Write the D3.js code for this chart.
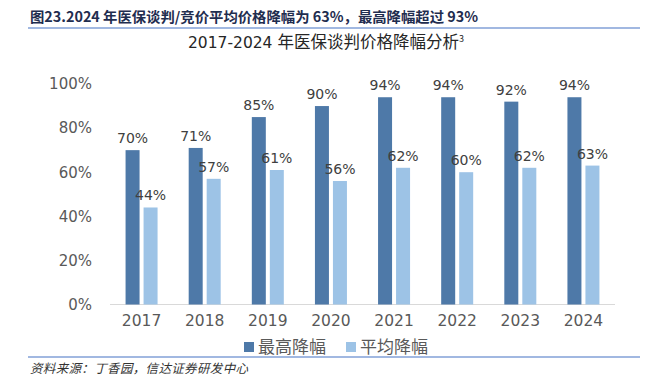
<!DOCTYPE html>
<html><head><meta charset="utf-8">
<script src="https://cdn.jsdelivr.net/npm/d3@7/dist/d3.min.js"></script>
<style>body{margin:0;background:#fff}svg{display:block}</style>
</head><body>
<script>
const categories = ["2017","2018","2019","2020","2021","2022","2023","2024"];
const maxCut = [70,71,85,90,94,94,92,94];
const avgCut = [44,57,61,56,62,60,62,63];
const yTicks = [0,20,40,60,80,100];
const seriesNames = ["最高降幅","平均降幅"];
const colors = ["#4e79a8","#9dc3e6"];

const W=655,H=379;
const svg=d3.select("body").append("svg").attr("width",W).attr("height",H);
const cjk='"Noto Sans CJK SC","Noto Sans",sans-serif';
const lat='"DejaVu Sans","Noto Sans CJK SC",sans-serif';

// header
svg.append("text").attr("x",30).attr("y",22).attr("font-family",cjk).attr("font-weight",700)
 .attr("font-size",14).attr("fill","#1f2d4f").attr("textLength",448).attr("lengthAdjust","spacingAndGlyphs")
 .text("图23.2024 年医保谈判/竞价平均价格降幅为 63%，最高降幅超过 93%");
svg.append("line").attr("x1",28).attr("x2",640).attr("y1",28).attr("y2",28).attr("stroke","#4472c4").attr("stroke-width",1.2);
const sub=svg.append("text").attr("x",188).attr("y",48).attr("font-family",cjk)
 .attr("font-size",16.5).attr("fill","#262626");
sub.append("tspan").attr("font-family",lat).attr("font-size",15.5).text("2017-2024 ");
sub.append("tspan").text("年医保谈判价格降幅分析");
sub.append("tspan").attr("font-size",9).attr("dy",-6).text("3");

const x=d3.scaleBand().domain(categories).range([110,615]);
const y=d3.scaleLinear().domain([0,100]).range([304.5,84]);

// baseline
svg.append("line").attr("x1",110).attr("x2",615).attr("y1",y(0)).attr("y2",y(0)).attr("stroke","#d9d9d9").attr("stroke-width",1);

// y axis
const ya=svg.append("g").attr("transform","translate(92,0)").call(d3.axisLeft(y).tickValues(yTicks).tickSize(0).tickPadding(0).tickFormat(d=>d+"%"));
ya.select(".domain").remove();
ya.selectAll("text").attr("font-family",lat).attr("font-size",15).attr("fill","#595959");

// x axis
const xa=svg.append("g").attr("transform",`translate(0,${y(0)})`).call(d3.axisBottom(x).tickSize(0).tickPadding(10));
xa.select(".domain").remove();
xa.selectAll("text").attr("font-family",lat).attr("font-size",15.5).attr("fill","#595959");

const bw=14, gap=2;
[maxCut,avgCut].forEach((vals,si)=>{
  const off = si===0 ? -gap-bw : gap;
  const g=svg.append("g");
  g.selectAll("rect").data(vals).join("rect")
   .attr("x",(d,i)=>x(categories[i])+x.bandwidth()/2+off)
   .attr("width",bw).attr("y",d=>y(d)).attr("height",d=>y(0)-y(d)).attr("fill",colors[si]);
  g.selectAll("text").data(vals).join("text")
   .attr("x",(d,i)=>x(categories[i])+x.bandwidth()/2+off+bw/2)
   .attr("y",d=>y(d)-7).attr("text-anchor","middle").attr("font-family",lat).attr("font-size",14)
   .attr("fill","#404040").text(d=>d+"%");
});

// legend
const lg=svg.append("g");
const lx=[244,346];
seriesNames.forEach((n,i)=>{
  lg.append("rect").attr("x",lx[i]).attr("y",342).attr("width",10).attr("height",10).attr("fill",colors[i]);
  lg.append("text").attr("x",lx[i]+14).attr("y",353).attr("font-family",cjk).attr("font-size",17)
   .attr("fill","#595959").text(n);
});

// footer
svg.append("line").attr("x1",28).attr("x2",640).attr("y1",357).attr("y2",357).attr("stroke","#4472c4").attr("stroke-width",1.2);
svg.append("text").attr("x",30).attr("y",373).attr("font-family",cjk).attr("font-style","italic")
 .attr("font-size",12.5).attr("fill","#333").attr("textLength",218).attr("lengthAdjust","spacing")
 .text("资料来源：丁香园，信达证券研发中心");
</script>
</body></html>
